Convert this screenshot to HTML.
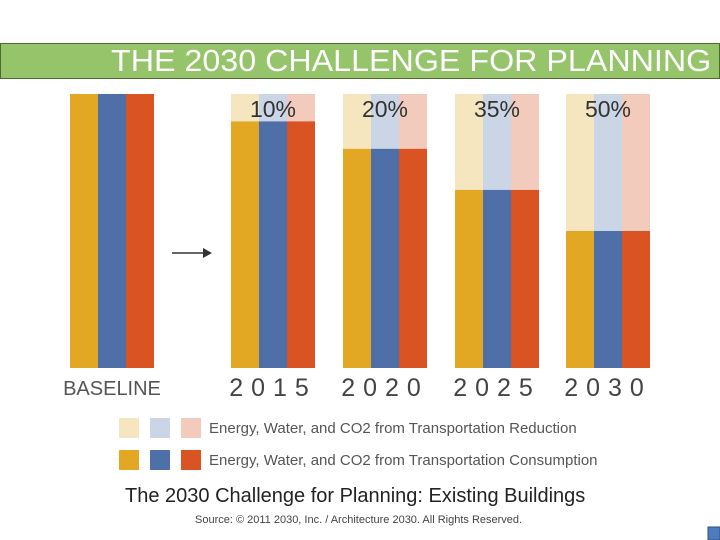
<!DOCTYPE html>
<html><head><meta charset="utf-8"><style>
body{margin:0;width:720px;height:540px;background:#fff;overflow:hidden;position:relative;font-family:"Liberation Sans",sans-serif}
#hdr{position:absolute;left:0;top:43px;width:718px;height:34px;background:#95c46b;border:1px solid #4d6b2d}
#hdr span{position:absolute;left:110px;top:-1px;color:#fff;font-size:31px;white-space:nowrap;transform:scaleX(1.04);transform-origin:left}
svg{position:absolute;left:0;top:0}
</style></head><body>
<div id="hdr"><span>THE 2030 CHALLENGE FOR PLANNING</span></div>
<svg id="chart" width="720" height="540"></svg>
<script>
const years=["2015","2020","2025","2030"];
const reductions=[10,20,35,50];
const groupX=[231,343,455,566];
const NS="http://www.w3.org/2000/svg";
const svg=document.getElementById('chart');
const dark=["#e2a823","#4e6fa7","#d95323"], light=["#f6e6bf","#cad6e6","#f3cbbd"];
const top0=94,bot=368,H=bot-top0,sw=28;
function yScale(p){return top0+H*p/100;}
function mk(t,a,name){const e=document.createElementNS(NS,t);for(const k in a)e.setAttribute(k,a[k]);


svg.appendChild(e);return e;}
for(let i=0;i<3;i++)mk('rect',{x:70+i*sw,y:top0,width:sw,height:H,fill:dark[i]},'baseline-bar');
mk('text',{x:112,y:395,'text-anchor':'middle','font-size':20,fill:'#555'},'baseline-label').textContent="BASELINE";
mk('line',{x1:172,y1:253,x2:208,y2:253,stroke:'#333','stroke-width':1.5},'arrow');
mk('path',{d:'M203,248 L212,253 L203,258 Z',fill:'#333'},'arrow-head');
reductions.forEach((r,g)=>{const x0=groupX[g];const ys=yScale(r);
for(let i=0;i<3;i++){
mk('rect',{x:x0+i*sw,y:top0,width:sw,height:ys-top0,fill:light[i]},'reduction-bar-'+years[g]);
mk('rect',{x:x0+i*sw,y:ys,width:sw,height:bot-ys,fill:dark[i]},'consumption-bar-'+years[g]);}
mk('text',{x:x0+42,y:top0+23,'text-anchor':'middle','font-size':23,fill:'#333'},'percent-label').textContent=r+"%";
mk('text',{x:x0+42,y:396,'text-anchor':'middle','font-size':25,fill:'#444','letter-spacing':'8'},'year-label').textContent=years[g];
});
for(let i=0;i<3;i++){
mk('rect',{x:119+i*31,y:418,width:20,height:20,fill:light[i]},'legend-swatch-reduction');
mk('rect',{x:119+i*31,y:450,width:20,height:20,fill:dark[i]},'legend-swatch-consumption');}
mk('text',{x:209,y:433,'font-size':15,fill:'#555'},'legend-reduction').textContent="Energy, Water, and CO2 from Transportation Reduction";
mk('text',{x:209,y:465,'font-size':15,fill:'#555'},'legend-consumption').textContent="Energy, Water, and CO2 from Transportation Consumption";
mk('text',{x:125,y:502,'font-size':20,fill:'#222'},'chart-caption').textContent="The 2030 Challenge for Planning: Existing Buildings";
mk('text',{x:195,y:523,'font-size':11,fill:'#444'},'source-note').textContent="Source: © 2011 2030, Inc. / Architecture 2030. All Rights Reserved.";
mk('rect',{x:708,y:527,width:12,height:13,fill:'#4e7bbf',stroke:'#2c4f80'},'nav-square');
</script>
</body></html>
